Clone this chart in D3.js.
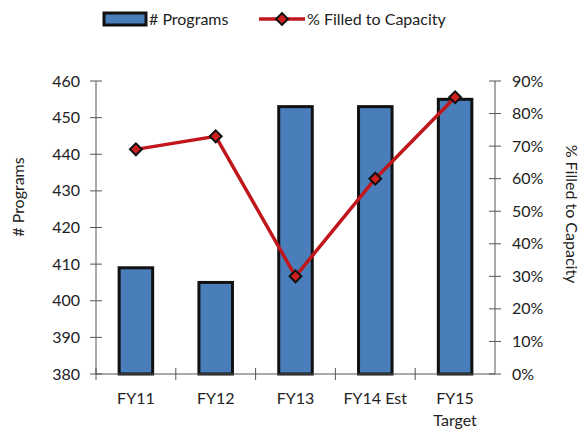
<!DOCTYPE html>
<html>
<head>
<script src="https://d3js.org/d3.v7.min.js"></script>
<style>
  body { margin: 0; background: #fff; }
  text { font-family: Lato, "Open Sans", sans-serif; fill: #222; }
</style>
</head>
<body>
<div id="chart"></div>
<script>
// data
var categories = ["FY11", "FY12", "FY13", "FY14 Est", "FY15\nTarget"];
var programs = [409, 405, 453, 453, 455];
var filled = [0.69, 0.73, 0.30, 0.60, 0.85];
var leftTicks = [380, 390, 400, 410, 420, 430, 440, 450, 460];
var rightTicks = [0, 0.1, 0.2, 0.3, 0.4, 0.5, 0.6, 0.7, 0.8, 0.9];

var W = 581, H = 432;
var plotL = 96, plotR = 495, plotT = 81, plotB = 374;

var svg = d3.select("#chart").append("svg")
    .attr("width", W).attr("height", H);

var x = d3.scaleBand().domain(categories).range([plotL, plotR]);
var y = d3.scaleLinear().domain([380, 460]).range([plotB, plotT]);
var y2 = d3.scaleLinear().domain([0, 0.9]).range([plotB, plotT]);

var axisColor = "#555";
var fs = "16px";

// bars
var bw = x.bandwidth() * 0.42;
svg.append("g").selectAll("rect")
  .data(programs)
  .enter().append("rect")
    .attr("x", function(d, i) { return x(categories[i]) + x.bandwidth() / 2 - bw / 2; })
    .attr("y", function(d) { return y(d); })
    .attr("width", bw)
    .attr("height", function(d) { return plotB - y(d); })
    .attr("fill", "#4a7ebb")
    .attr("stroke", "#111")
    .attr("stroke-width", 3);

// left axis
var gl = svg.append("g").attr("transform", "translate(" + plotL + ",0)");
gl.append("line").attr("y1", plotT).attr("y2", plotB).attr("stroke", axisColor);
gl.selectAll(".t").data(leftTicks).enter().append("line")
  .attr("x1", -6).attr("x2", 6)
  .attr("y1", function(d) { return y(d); }).attr("y2", function(d) { return y(d); })
  .attr("stroke", axisColor);
gl.selectAll("text").data(leftTicks).enter().append("text")
  .attr("x", -16).attr("y", function(d) { return y(d); })
  .attr("dy", "0.35em").attr("text-anchor", "end")
  .style("font-size", fs)
  .text(function(d) { return d; });

// right axis
var gr = svg.append("g").attr("transform", "translate(" + plotR + ",0)");
gr.append("line").attr("y1", plotT).attr("y2", plotB).attr("stroke", axisColor);
gr.selectAll(".t").data(rightTicks).enter().append("line")
  .attr("x1", -6).attr("x2", 6)
  .attr("y1", function(d) { return y2(d); }).attr("y2", function(d) { return y2(d); })
  .attr("stroke", axisColor);
gr.selectAll("text").data(rightTicks).enter().append("text")
  .attr("x", 17).attr("y", function(d) { return y2(d); })
  .attr("dy", "0.35em").attr("text-anchor", "start")
  .style("font-size", fs)
  .text(d3.format(".0%"));

// x axis
var gx = svg.append("g");
gx.append("line").attr("x1", plotL).attr("x2", plotR)
  .attr("y1", plotB).attr("y2", plotB).attr("stroke", axisColor);
gx.selectAll(".t").data(categories).enter().append("line")
  .attr("x1", function(d) { return x(d); }).attr("x2", function(d) { return x(d); })
  .attr("y1", plotB - 6).attr("y2", plotB + 6)
  .attr("stroke", axisColor);
gx.selectAll("text").data(categories).enter().append("text")
  .attr("x", function(d) { return x(d) + x.bandwidth() / 2; })
  .attr("y", 404)
  .attr("text-anchor", "middle")
  .style("font-size", fs)
  .each(function(d) {
    var lines = d.split("\n");
    var t = d3.select(this);
    lines.forEach(function(l, i) {
      t.append("tspan").attr("x", x(d) + x.bandwidth() / 2)
        .attr("dy", i === 0 ? 0 : 22).text(l);
    });
  });

// line
var line = d3.line()
  .x(function(d, i) { return x(categories[i]) + x.bandwidth() / 2; })
  .y(function(d) { return y2(d); });
svg.append("path").datum(filled)
  .attr("d", line)
  .attr("fill", "none")
  .attr("stroke", "#c0171c")
  .attr("stroke-width", 3.5);

var diamond = d3.symbol().type(d3.symbolSquare).size(70);
svg.append("g").selectAll("path")
  .data(filled)
  .enter().append("path")
    .attr("d", diamond)
    .attr("transform", function(d, i) {
      return "translate(" + (x(categories[i]) + x.bandwidth() / 2) + "," + y2(d) + ") rotate(45)";
    })
    .attr("fill", "#d01f1f")
    .attr("stroke", "#111")
    .attr("stroke-width", 2);

// axis titles
svg.append("text")
  .attr("transform", "translate(24,197) rotate(-90)")
  .attr("text-anchor", "middle")
  .style("font-size", fs)
  .text("# Programs");
svg.append("text")
  .attr("transform", "translate(566,214) rotate(90)")
  .attr("text-anchor", "middle")
  .style("font-size", fs)
  .text("% Filled to Capacity");

// legend
var lg = svg.append("g");
lg.append("rect").attr("x", 104).attr("y", 13).attr("width", 42).attr("height", 12)
  .attr("fill", "#4a7ebb").attr("stroke", "#111").attr("stroke-width", 3);
lg.append("text").attr("x", 149).attr("y", 25).style("font-size", fs).text("# Programs");
lg.append("line").attr("x1", 259).attr("x2", 305).attr("y1", 19).attr("y2", 19)
  .attr("stroke", "#c0171c").attr("stroke-width", 3.5);
lg.append("path").attr("d", diamond)
  .attr("transform", "translate(282,19) rotate(45)")
  .attr("fill", "#d01f1f").attr("stroke", "#111").attr("stroke-width", 2);
lg.append("text").attr("x", 307).attr("y", 25).style("font-size", fs).text("% Filled to Capacity");
</script>
</body>
</html>
